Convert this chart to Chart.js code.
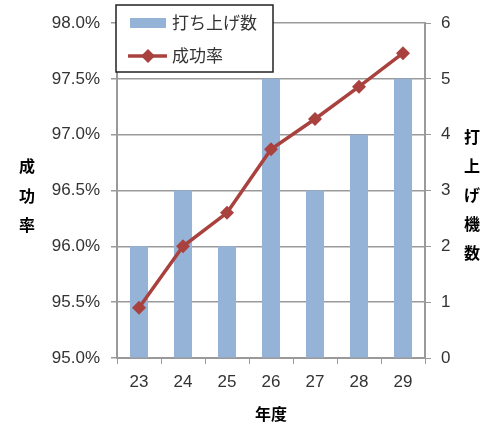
<!DOCTYPE html>
<html>
<head>
<meta charset="utf-8">
<script src="https://cdn.jsdelivr.net/npm/chart.js@4/dist/chart.umd.min.js"></script>
<style>
  html, body { margin: 0; padding: 0; background: #fff; }
  #wrap { position: relative; width: 496px; height: 428px; }
</style>
</head>
<body>
<div id="wrap"><canvas id="chart" width="496" height="428"></canvas></div>
<script>
// data
const years = ['23', '24', '25', '26', '27', '28', '29'];
const launches = [2, 3, 2, 5, 3, 4, 5];
const successRate = [95.45, 96.0, 96.3, 96.87, 97.14, 97.43, 97.73];

const barLabel = '打ち上げ数';
const lineLabel = '成功率';
const leftTitle = ['成', '功', '率'];
const rightTitle = ['打', '上', 'げ', '機', '数'];
const xTitle = '年度';

const barColor = '#95B3D7';
const lineColor = '#A9423F';
const gridColor = '#9a9a9a';
const textColor = '#333333';
const numFont = "'Liberation Sans', Arial, sans-serif";
const cjkFont = "'Noto Sans CJK JP', sans-serif";

// titles and the boxed legend, drawn on top of the chart
const extras = {
    id: 'extras',
    afterDraw(chart) {
        const ctx = chart.ctx;
        ctx.save();
        ctx.fillStyle = '#000';
        ctx.textAlign = 'center';
        ctx.textBaseline = 'middle';
        ctx.font = "bold 16px " + cjkFont;
        leftTitle.forEach((ch, i) => ctx.fillText(ch, 27, 166 + i * 29.5));
        rightTitle.forEach((ch, i) => ctx.fillText(ch, 472, 137 + i * 29));
        ctx.fillText(xTitle, 271, 414);

        // legend box
        ctx.fillStyle = '#fff';
        ctx.fillRect(116, 5, 157, 67);
        ctx.strokeStyle = '#222';
        ctx.lineWidth = 1.5;
        ctx.strokeRect(116, 5, 157, 67);

        ctx.fillStyle = barColor;
        ctx.fillRect(130, 18, 36, 10);

        ctx.strokeStyle = lineColor;
        ctx.lineWidth = 3.5;
        ctx.beginPath();
        ctx.moveTo(128, 56);
        ctx.lineTo(167, 56);
        ctx.stroke();
        ctx.fillStyle = lineColor;
        ctx.beginPath();
        ctx.moveTo(148, 49);
        ctx.lineTo(155, 56);
        ctx.lineTo(148, 63);
        ctx.lineTo(141, 56);
        ctx.closePath();
        ctx.fill();

        ctx.fillStyle = textColor;
        ctx.textAlign = 'left';
        ctx.font = "17px " + cjkFont;
        ctx.fillText(barLabel, 172, 23);
        ctx.fillText(lineLabel, 172, 56);
        ctx.restore();
    }
};

new Chart(document.getElementById('chart'), {
    type: 'bar',
    data: {
        labels: years,
        datasets: [
            {
                type: 'bar',
                label: barLabel,
                data: launches,
                yAxisID: 'y1',
                backgroundColor: barColor,
                borderWidth: 0,
                categoryPercentage: 1,
                barPercentage: 0.41,
                order: 2
            },
            {
                type: 'line',
                label: lineLabel,
                data: successRate,
                yAxisID: 'y',
                borderColor: lineColor,
                backgroundColor: lineColor,
                borderWidth: 3.5,
                pointStyle: 'rectRot',
                pointRadius: 7,
                pointBorderWidth: 0,
                tension: 0,
                order: 1
            }
        ]
    },
    options: {
        responsive: false,
        animation: false,
        layout: { padding: { top: 23, bottom: 0, left: 0, right: 0 } },
        plugins: {
            legend: { display: false },
            tooltip: { enabled: false }
        },
        scales: {
            x: {
                afterFit: s => { s.height = 70; },
                grid: { drawOnChartArea: false, drawTicks: true, tickLength: 6, color: gridColor, offset: true },
                border: { color: gridColor, width: 2 },
                ticks: { color: textColor, font: { family: numFont, size: 17 }, padding: 8 }
            },
            y: {
                position: 'left',
                min: 95,
                max: 98,
                afterFit: s => { s.width = 117; },
                grid: { color: gridColor, lineWidth: 1.5, tickLength: 6 },
                border: { color: gridColor, width: 2 },
                ticks: {
                    stepSize: 0.5,
                    color: textColor,
                    padding: 11,
                    font: { family: numFont, size: 17 },
                    callback: v => v.toFixed(1) + '%'
                }
            },
            y1: {
                position: 'right',
                min: 0,
                max: 6,
                afterFit: s => { s.width = 71; },
                grid: { drawOnChartArea: false, color: gridColor, tickLength: 6 },
                border: { color: gridColor, width: 2 },
                ticks: { stepSize: 1, color: textColor, padding: 10, font: { family: numFont, size: 17 } }
            }
        }
    },
    plugins: [extras]
});
</script>
</body>
</html>
